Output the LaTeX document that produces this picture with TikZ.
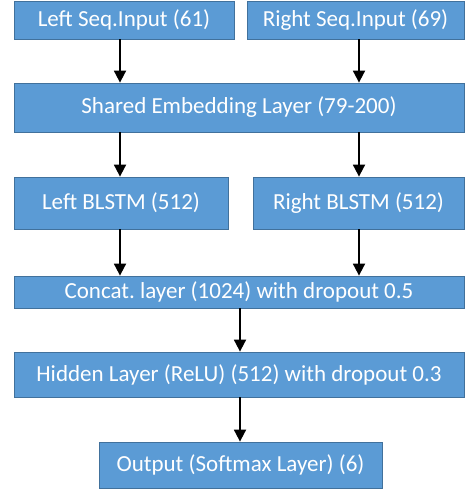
\documentclass[tikz,border=0pt]{standalone}
\usepackage{fontspec}
\setmainfont{Carlito}
\usetikzlibrary{arrows.meta}
\definecolor{boxfill}{HTML}{5B9BD5}
\definecolor{boxline}{HTML}{41719C}
\begin{document}
\frenchspacing
\begin{tikzpicture}[x=1pt,y=-1pt,
  box/.style={draw=boxline, line width=0.8pt, fill=boxfill, text=white, inner sep=0pt,
    font=\fontsize{23}{26}\selectfont},
  arr/.style={line width=1.8pt, -{Triangle[width=12pt,length=12pt]}}]
\useasboundingbox[fill=white] (0,0) rectangle (465,490);
\node[box, minimum width=220pt, minimum height=38pt] (lin) at (124,20) {Left Seq.Input (61)};
\node[box, minimum width=217pt, minimum height=38pt] (rin) at (355.5,20) {Right Seq.Input (69)};
\node[box, minimum width=450pt, minimum height=49pt] (emb) at (239,107.5) {Shared Embedding Layer (79-200)};
\node[box, minimum width=214pt, minimum height=52pt] (lb) at (121,203) {Left BLSTM (512)};
\node[box, minimum width=211pt, minimum height=52pt] (rb) at (358.5,203) {Right BLSTM (512)};
\node[box, minimum width=450pt, minimum height=32pt] (cat) at (239,292) {Concat.\ layer (1024) with dropout 0.5};
\node[box, minimum width=450pt, minimum height=45pt] (hid) at (239,374.5) {Hidden Layer (ReLU) (512) with dropout 0.3};
\node[box, minimum width=283pt, minimum height=46pt] (out) at (240.5,465) {Output (Softmax Layer) (6)};
\coordinate (xl) at (120,0);
\coordinate (xr) at (359,0);
\coordinate (xc) at (240,0);
\draw[arr] (lin.south -| xl) -- (emb.north -| xl);
\draw[arr] (rin.south -| xr) -- (emb.north -| xr);
\draw[arr] (emb.south -| xl) -- (lb.north -| xl);
\draw[arr] (emb.south -| xr) -- (rb.north -| xr);
\draw[arr] (lb.south -| xl) -- (cat.north -| xl);
\draw[arr] (rb.south -| xr) -- (cat.north -| xr);
\draw[arr] (cat.south -| xc) -- (hid.north -| xc);
\draw[arr] (hid.south -| xc) -- (out.north -| xc);
\end{tikzpicture}
\end{document}
